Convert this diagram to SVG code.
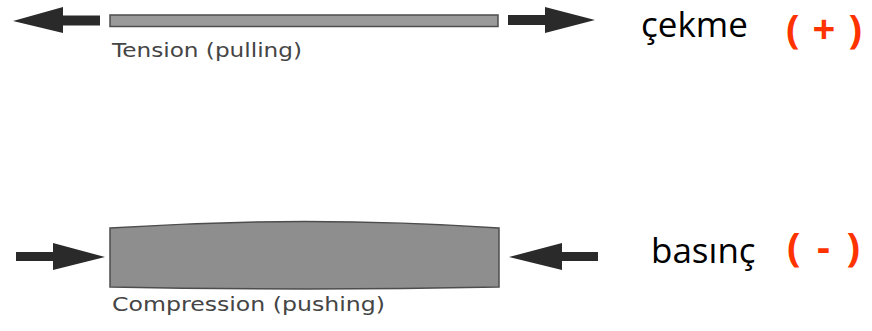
<svg xmlns="http://www.w3.org/2000/svg" width="872" height="331" viewBox="0 0 872 331">
<style>
.arrow{fill:#2a2a2a}
.bar{fill:#9a9a9a;stroke:#4d4d4d;stroke-width:1.5}
.cap{font-family:"DejaVu Sans",sans-serif;font-size:20px;fill:#454545}
.tr{font-family:"Open Sans","Noto Sans",sans-serif;font-size:35px;fill:#000}
.sign{font-family:"Open Sans","Noto Sans",sans-serif;font-weight:bold;font-size:40px;fill:#ff3300}
</style>
<rect width="872" height="331" fill="#fff"/>
<g id="tension">
<rect class="bar" x="110" y="15" width="388" height="11.5"/>
<text class="cap" x="112" y="57" textLength="190" lengthAdjust="spacingAndGlyphs">Tension (pulling)</text>
</g>
<g id="compression">
<path class="bar" style="fill:#8e8e8e" d="M110,228 Q305,215 499,228 L499,287 Q305,291 110,287 Z"/>
<text class="cap" x="112" y="311" textLength="273" lengthAdjust="spacingAndGlyphs">Compression (pushing)</text>
</g>
<g id="connectors">
<polygon class="arrow" points="13,21 63,7 63,15.5 100,15.5 100,25.5 63,25.5 63,33"/>
<polygon class="arrow" points="595,20 545,7 545,15 508,15 508,25 545,25 545,33"/>
<polygon class="arrow" points="105,257 53,243 53,252 16,252 16,261 53,261 53,270"/>
<polygon class="arrow" points="509,257 562,243 562,252 598,252 598,261 562,261 562,270"/>
</g>
<g id="labels">
<text class="tr" x="641" y="37">çekme</text>
<text class="sign" x="786" y="43" textLength="76" lengthAdjust="spacing">( + )</text>
<text class="tr" x="651" y="263">basınç</text>
<text class="sign" x="787" y="261" textLength="73" lengthAdjust="spacing">( - )</text>
</g>
</svg>
